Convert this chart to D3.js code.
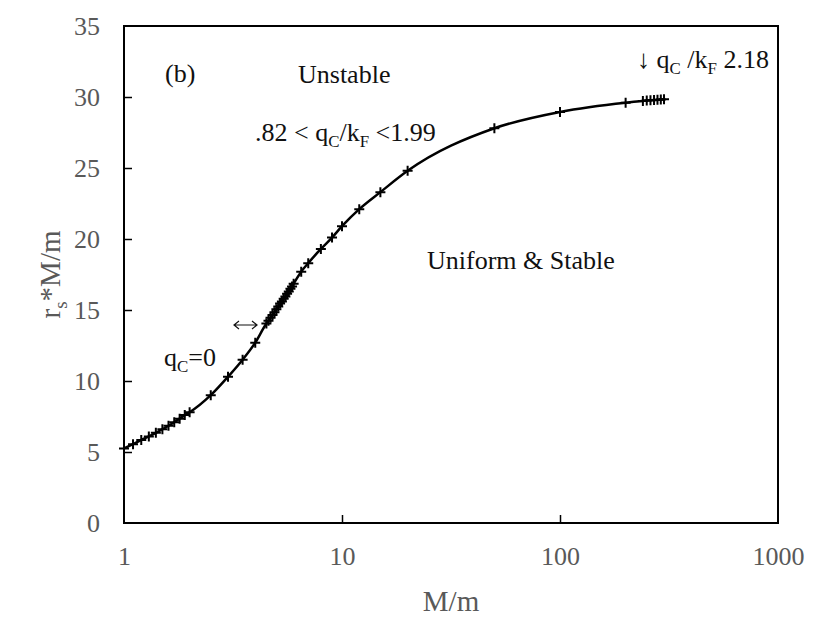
<!DOCTYPE html>
<html><head><meta charset="utf-8">
<script src="https://cdn.jsdelivr.net/npm/d3@7"></script>
<style>
body{margin:0;background:#fff}
svg{display:block;font-family:"Liberation Serif","Times New Roman",serif}
</style>
</head><body>
<svg id="c" width="830" height="643"></svg>
<script>
// data
const massRatio = [1, 1.1, 1.2, 1.3, 1.4, 1.5, 1.6, 1.7, 1.8, 1.9, 2.0, 2.5, 3, 3.5, 4,
  4.5, 4.6, 4.7, 4.8, 4.9, 5.0, 5.1, 5.2, 5.3, 5.4, 5.5, 5.6, 5.7, 5.8, 5.9, 6.0,
  6.5, 7, 8, 9, 10, 12, 15, 20, 50, 100, 200, 240, 250, 260, 270, 280, 290, 300];
const scaledRadius = [5.25, 5.55, 5.85, 6.1, 6.35, 6.6, 6.85, 7.1, 7.35, 7.6, 7.8, 9.0, 10.3, 11.5, 12.7,
  14.05, 14.25, 14.45, 14.65, 14.85, 15.05, 15.25, 15.45, 15.6, 15.8, 15.95, 16.15, 16.3, 16.5, 16.65, 16.85,
  17.7, 18.3, 19.3, 20.1, 20.9, 22.1, 23.3, 24.8, 27.8, 28.95, 29.6, 29.72, 29.75, 29.77, 29.78, 29.8, 29.82, 29.85];
const xTickValues = [1, 10, 100, 1000];
const yTickValues = [0, 5, 10, 15, 20, 25, 30, 35];

const svg = d3.select("#c");
const pL = 124, pR = 778, pT = 26, pB = 523;
const x = d3.scaleLog().domain([1, 1000]).range([pL, pR]);
const y = d3.scaleLinear().domain([0, 35]).range([pB, pT]);
const grey = "#595959";

// frame
svg.append("rect").attr("x", pL).attr("y", pT).attr("width", pR - pL).attr("height", pB - pT)
  .attr("fill", "none").attr("stroke", "#000").attr("stroke-width", 2);

// axes (inner ticks)
const xAxis = svg.append("g").attr("transform", `translate(0,${pB})`)
  .call(d3.axisBottom(x).tickValues(xTickValues).tickFormat(d3.format("d")).tickSize(-8).tickPadding(33));
const yAxis = svg.append("g").attr("transform", `translate(${pL},0)`)
  .call(d3.axisLeft(y).tickValues(yTickValues).tickSize(-8).tickPadding(24));
[xAxis, yAxis].forEach(g => {
  g.select(".domain").remove();
  g.selectAll(".tick line").attr("stroke", "#000").attr("stroke-width", 1.5);
  g.selectAll(".tick text").attr("fill", grey).attr("font-size", 26)
    .attr("font-family", "Liberation Serif, Times New Roman, serif");
});
xAxis.selectAll(".tick text").attr("dy", "0.35em");
yAxis.selectAll(".tick line").filter(d => d === 0 || d === 35).remove();
xAxis.selectAll(".tick line").filter(d => d === 1 || d === 1000).remove();

// axis titles
svg.append("text").attr("x", (pL + pR) / 2).attr("y", 611).attr("text-anchor", "middle")
  .attr("fill", grey).attr("font-size", 29).text("M/m");
const yt = svg.append("text").attr("transform", `translate(60,${(pT + pB) / 2}) rotate(-90)`)
  .attr("text-anchor", "middle").attr("fill", grey).attr("font-size", 29);
yt.append("tspan").text("r");
yt.append("tspan").attr("font-size", 19).attr("dy", 7).text("s");
yt.append("tspan").attr("dy", -7).text("*M/m");

// curve
const pts = massRatio.map((m, i) => [m, scaledRadius[i]]);
svg.append("path").datum(pts)
  .attr("fill", "none").attr("stroke", "#000").attr("stroke-width", 2.5)
  .attr("d", d3.line().x(d => x(d[0])).y(d => y(d[1])).curve(d3.curveMonotoneX));

// markers
const s = 5;
svg.append("g").selectAll("path").data(pts).join("path")
  .attr("d", d => { const px = x(d[0]), py = y(d[1]); return `M${px - s},${py}H${px + s}M${px},${py - s}V${py + s}`; })
  .attr("stroke", "#000").attr("stroke-width", 2);

// annotations
function ann(xp, yp, parts, size) {
  const t = svg.append("text").attr("x", xp).attr("y", yp).attr("font-size", size).attr("fill", "#111");
  parts.forEach(p => {
    const ts = t.append("tspan").text(p[0]);
    if (p[1] === "sub") ts.attr("font-size", size * 0.65).attr("dy", 6);
    if (p[1] === "up") ts.attr("dy", -6);
  });
  return t;
}
ann(165, 82, [["(b)"]], 26);
ann(298, 83, [["Unstable"]], 26);
ann(255, 141, [[".82 < q"], ["C", "sub"], ["/k", "up"], ["F", "sub"], [" <1.99", "up"]], 26);
ann(637, 68, [["\u2193 q"], ["C", "sub"], [" /k", "up"], ["F", "sub"], [" 2.18", "up"]], 26);
ann(427, 269, [["Uniform & Stable"]], 26);
ann(164, 366, [["q"], ["C", "sub"], ["=0", "up"]], 26);

// double-headed arrow annotation
const ax0 = 234, ax1 = 257, ay = 325;
svg.append("path")
  .attr("d", `M${ax0},${ay}H${ax1}M${ax0 + 5},${ay - 4}L${ax0},${ay}L${ax0 + 5},${ay + 4}M${ax1 - 5},${ay - 4}L${ax1},${ay}L${ax1 - 5},${ay + 4}`)
  .attr("fill", "none").attr("stroke", "#111").attr("stroke-width", 1.2);
</script>
</body></html>
